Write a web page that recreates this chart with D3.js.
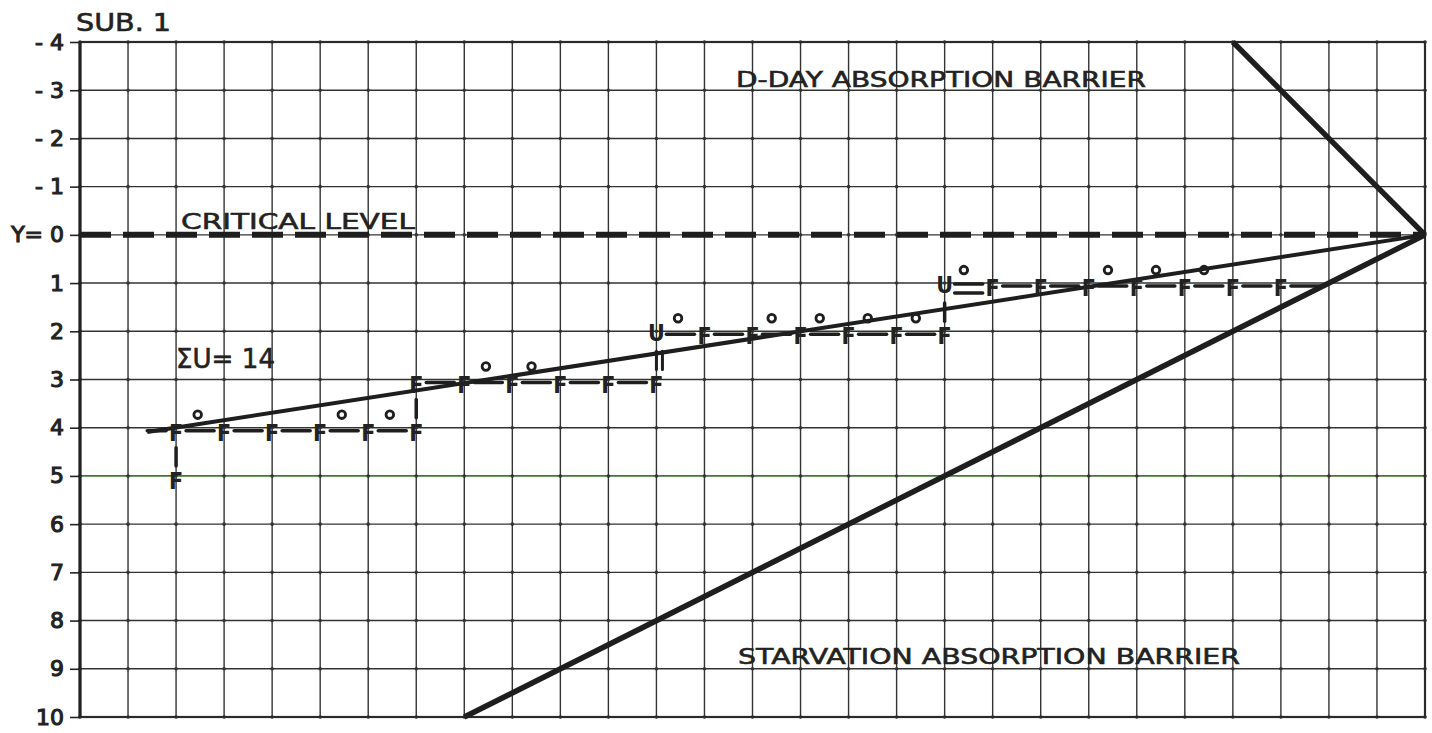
<!DOCTYPE html>
<html>
<head>
<meta charset="utf-8">
<script src="https://cdn.jsdelivr.net/npm/d3@7"></script>
<style>
  html, body { margin: 0; padding: 0; background: #fff; }
  svg { display: block; }
  .lbl { font-family: "DejaVu Sans", sans-serif; fill: #222; stroke: #222; stroke-width: 0.6; }
  .mark { font-family: "DejaVu Sans Condensed", "DejaVu Sans", sans-serif; font-weight: bold; fill: #222; }
</style>
</head>
<body>
<svg id="chart" width="1432" height="733"></svg>
<script>
    // ---- data ----
    var yTickValues = [-4, -3, -2, -1, 0, 1, 2, 3, 4, 5, 6, 7, 8, 9, 10];
    var yTickLabels = ["- 4", "- 3", "- 2", "- 1", "Y= 0", "1", "2", "3", "4", "5", "6", "7", "8", "9", "10"];
    var columnCount = 28;

    var criticalLevel = [[0, 0], [28, 0]];
    var dDayBarrier = [[24, -4], [28, 0]];
    var starvationBarrier = [[8, 10], [28, 0]];
    var trendLine = [[1.4, 4.09], [28, 0]];

    // walk: failures (F), unfavourable steps (U) and the tally circles
    var fMarks = [[2, 5], [2, 4], [3, 4], [4, 4], [5, 4], [6, 4], [7, 4],
        [7, 3], [8, 3], [9, 3], [10, 3], [11, 3], [12, 3],
        [13, 2], [14, 2], [15, 2], [16, 2], [17, 2], [18, 2],
        [19, 1], [20, 1], [21, 1], [22, 1], [23, 1], [24, 1], [25, 1]];
    var uMarks = [[12, 2], [18, 1]];
    var tallyCircles = [[2.45, 4], [5.45, 4], [6.45, 4], [8.45, 3], [9.4, 3],
        [12.45, 2], [14.4, 2], [15.4, 2], [16.4, 2], [17.4, 2],
        [18.4, 1], [21.4, 1], [22.4, 1], [23.4, 1]];
    // horizontal dashes [from, to, level, double?]
    var walkDashes = [[1.4, 2, 4], [2, 3, 4], [3, 4, 4], [4, 5, 4], [5, 6, 4], [6, 7, 4],
        [7, 8, 3], [8, 9, 3], [9, 10, 3], [10, 11, 3], [11, 12, 3],
        [12, 13, 2], [13, 14, 2], [14, 15, 2], [15, 16, 2], [16, 17, 2], [17, 18, 2],
        [18, 19, 1, true], [19, 20, 1], [20, 21, 1], [21, 22, 1], [22, 23, 1], [23, 24, 1], [24, 25, 1], [25, 25.9, 1]];
    // vertical moves [x, from, to, double?]
    var walkRisers = [[2, 4, 5], [7, 4, 3], [12, 3, 2, true], [18, 2, 1]];

    var svg = d3.select('#chart');
    var x = d3.scaleLinear().domain([0, columnCount]).range([80, 1425]),
        y = d3.scaleLinear().domain([-4, 10]).range([42, 717]);
    var line = d3.line().x(function (d) { return x(d[0]); }).y(function (d) { return y(d[1]); });

    // grid
    var grid = svg.append('g').attr('stroke', '#333').attr('stroke-width', 1.4);
    grid.selectAll('line.v').data(d3.range(1, columnCount)).enter().append('line')
        .attr('x1', x).attr('x2', x).attr('y1', y(-4)).attr('y2', y(10));
    grid.selectAll('line.h').data(yTickValues.slice(1, -1)).enter().append('line')
        .attr('x1', x(0)).attr('x2', x(columnCount)).attr('y1', y).attr('y2', y)
        .attr('stroke', function (d) { return d === 5 ? '#3f7a2e' : null; })
        .attr('stroke-width', function (d) { return d === 5 ? 1.7 : null; });

    var knots = [];
    d3.range(0, columnCount + 1).forEach(function (c) {
        yTickValues.forEach(function (r) { knots.push([c, r]); });
    });
    svg.append('g').selectAll('circle').data(knots).enter().append('circle')
        .attr('cx', function (d) { return x(d[0]); }).attr('cy', function (d) { return y(d[1]); })
        .attr('r', 1.8).attr('fill', '#333');

    // frame
    svg.append('rect').attr('x', x(0)).attr('y', y(-4)).attr('width', x(columnCount) - x(0)).attr('height', y(10) - y(-4))
        .attr('fill', 'none').attr('stroke', '#2a2a2a').attr('stroke-width', 2.2);
    svg.append('line').attr('x1', x(0)).attr('x2', x(0)).attr('y1', y(-4)).attr('y2', y(10))
        .attr('stroke', '#222').attr('stroke-width', 3.2);

    // y axis
    var axis = d3.axisLeft(y).tickValues(yTickValues).tickSize(10).tickPadding(6)
        .tickFormat(function (d, i) { return yTickLabels[i]; });
    var axisG = svg.append('g').attr('transform', 'translate(' + x(0) + ',0)').call(axis);
    axisG.select('.domain').remove();
    axisG.selectAll('.tick line').attr('stroke', '#222').attr('stroke-width', 1.6);
    axisG.selectAll('.tick text').attr('class', 'lbl').attr('font-size', 22)
        .attr('fill', '#222').style('font-family', '"DejaVu Sans", sans-serif').style('stroke-width', 1.1);

    // barriers and levels
    svg.append('path').datum(criticalLevel).attr('d', line).attr('fill', 'none')
        .attr('stroke', '#1e1e1e').attr('stroke-width', 6).attr('stroke-dasharray', '31 12');
    svg.append('path').datum(dDayBarrier).attr('d', line).attr('fill', 'none')
        .attr('stroke', '#1e1e1e').attr('stroke-width', 5.5);
    svg.append('path').datum(starvationBarrier).attr('d', line).attr('fill', 'none')
        .attr('stroke', '#1e1e1e').attr('stroke-width', 5.5);
    svg.append('path').datum(trendLine).attr('d', line).attr('fill', 'none')
        .attr('stroke', '#1e1e1e').attr('stroke-width', 4);

    // walk
    var walk = svg.append('g').attr('stroke', '#1e1e1e').attr('stroke-width', 3.5).attr('stroke-linecap', 'round');
    walkDashes.forEach(function (d) {
        var a = d[0] === Math.round(d[0]) ? x(d[0]) + 10 : x(d[0]),
            b = d[1] === Math.round(d[1]) ? x(d[1]) - 10 : x(d[1]),
            offsets = d[3] ? [1, 10] : [3];
        offsets.forEach(function (o) {
            walk.append('line').attr('x1', a).attr('x2', b).attr('y1', y(d[2]) + o).attr('y2', y(d[2]) + o);
        });
    });
    walkRisers.forEach(function (d) {
        var lo = Math.min(d[1], d[2]), hi = Math.max(d[1], d[2]),
            offsets = d[3] ? [0, 6] : [0];
        offsets.forEach(function (o) {
            walk.append('line').attr('x1', x(d[0]) + o).attr('x2', x(d[0]) + o)
                .attr('y1', y(lo) + 20).attr('y2', y(hi) - 10).attr('stroke-width', d[3] ? 3 : 3.5);
        });
    });
    svg.append('g').selectAll('circle').data(tallyCircles).enter().append('circle')
        .attr('cx', function (d) { return x(d[0]); }).attr('cy', function (d) { return y(d[1] - 0.27); })
        .attr('r', 3.8).attr('fill', 'none').attr('stroke', '#1e1e1e').attr('stroke-width', 2.8);
    svg.append('g').selectAll('text').data(fMarks).enter().append('text').attr('class', 'mark')
        .attr('x', function (d) { return x(d[0]); }).attr('y', function (d) { return y(d[1]) + 13; })
        .attr('text-anchor', 'middle').attr('font-size', 23).text('F');
    svg.append('g').selectAll('text').data(uMarks).enter().append('text').attr('class', 'mark')
        .attr('x', function (d) { return x(d[0]); }).attr('y', function (d) { return y(d[1]) + 10; })
        .attr('text-anchor', 'middle').attr('font-size', 23).text('U');

    // lettering
    var lettering = [
        ['SUB. 1', 76, 31, 24, 95],
        ['D-DAY ABSORPTION BARRIER', 736, 87, 21, 410],
        ['CRITICAL LEVEL', 181, 229, 22, 234],
        ['\u03A3U= 14', 176, 368, 27, 99],
        ['STARVATION  ABSORPTION  BARRIER', 738, 664, 22, 502]
    ];
    lettering.forEach(function (t) {
        svg.append('text').attr('class', 'lbl').attr('x', t[1]).attr('y', t[2]).attr('font-size', t[3])
            .attr('textLength', t[4]).attr('lengthAdjust', 'spacingAndGlyphs').text(t[0]);
    });
</script>
</body>
</html>
